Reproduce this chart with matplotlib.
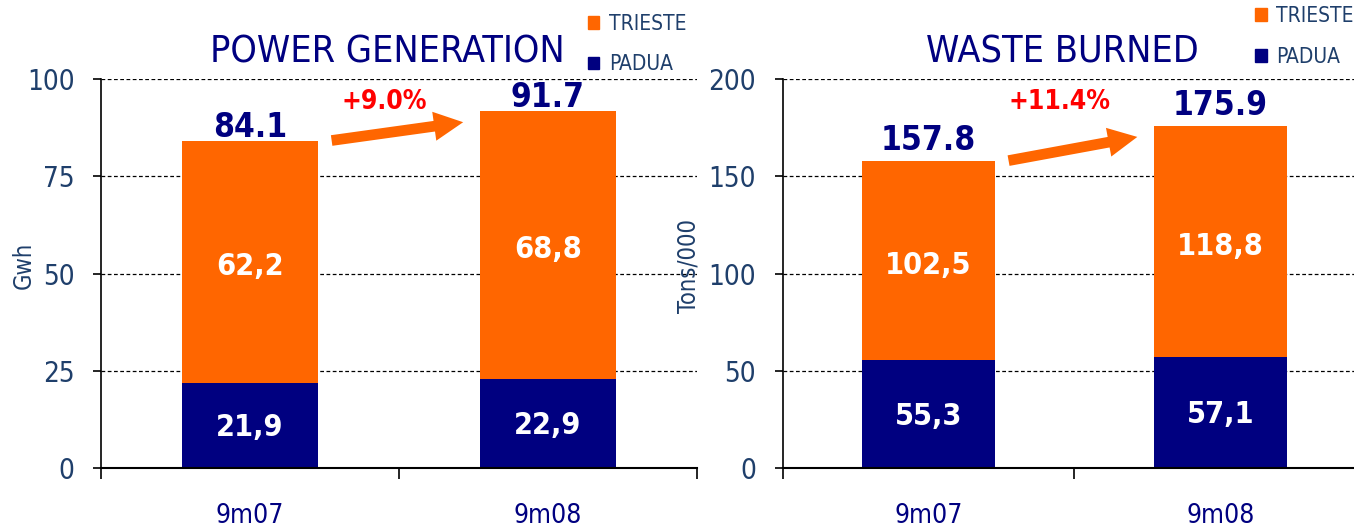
import matplotlib
matplotlib.use('Agg')
import matplotlib.pyplot as plt
from matplotlib.patches import Patch
import numpy as np

# --- DADOS ---
periodos = ['9m07', '9m08']

energia_padua = [21.9, 22.9]
energia_trieste = [62.2, 68.8]
energia_total = ['84.1', '91.7']
energia_var = '+9.0%'

residuos_padua = [55.3, 57.1]
residuos_trieste = [102.5, 118.8]
residuos_total = ['157.8', '175.9']
residuos_var = '+11.4%'

# --- ESTILO ---
LARANJA = '#FF6600'
AZUL = '#000080'
AZUL_TICK = '#1F3F6B'
VERMELHO = '#FF0000'

plt.rcParams['font.family'] = ['DejaVu Sans']
plt.rcParams['font.stretch'] = 'condensed'


def painel(ax, padua, trieste, totais, variacao, titulo, ylabel, ymax, passo, off_total, leg_xy, ylab_x):
    x = np.arange(len(periodos))
    larg = 0.455
    ax.bar(x, padua, larg, color=AZUL, zorder=3)
    ax.bar(x, trieste, larg, bottom=padua, color=LARANJA, zorder=3)

    # rótulos internos
    for i in range(len(x)):
        ax.text(x[i], padua[i] / 2 - ymax * 0.006, f'{padua[i]:.1f}'.replace('.', ','),
                ha='center', va='center', color='white', fontsize=22, fontweight='bold', zorder=4)
        ax.text(x[i], padua[i] + trieste[i] / 2 - ymax * 0.012, f'{trieste[i]:.1f}'.replace('.', ','),
                ha='center', va='center', color='white', fontsize=22, fontweight='bold', zorder=4)
        tot = padua[i] + trieste[i]
        ax.annotate(totais[i], (x[i], tot), xytext=(0, off_total), textcoords='offset points',
                    ha='center', va='bottom', color=AZUL, fontsize=24, fontweight='bold')

    # seta de crescimento
    t0 = padua[0] + trieste[0]
    t1 = padua[1] + trieste[1]
    ax.annotate('', xy=(0.725, t1 - ymax * 0.027), xytext=(0.265, t0),
                arrowprops=dict(arrowstyle='simple,head_width=1.5,head_length=1.5,tail_width=0.55',
                                color=LARANJA, lw=0, mutation_scale=14), zorder=5)
    ax.text(0.45, ymax * 0.94, variacao, ha='center', va='center', color=VERMELHO,
            fontsize=19, fontweight='bold')

    ax.set_xlim(-0.5, 1.5)
    ax.set_ylim(0, ymax)
    ax.set_yticks(np.arange(0, ymax + 1, passo))
    ax.set_xticks([-0.5, 0.5, 1.5])
    ax.set_xticklabels([])
    ax.set_xticks(x, minor=True)
    ax.set_xticklabels(periodos, minor=True)
    ax.tick_params(axis='x', which='major', length=8, width=1.2, direction='out')
    ax.tick_params(axis='x', which='minor', length=0, pad=25, labelsize=19, labelcolor=AZUL)
    ax.tick_params(axis='y', length=6, width=1.2, direction='out', labelsize=20,
                   labelcolor=AZUL_TICK, pad=13)
    ax.grid(axis='y', color='black', linestyle=(0, (3, 2)), linewidth=0.9, zorder=0)
    for s in ['top', 'right']:
        ax.spines[s].set_visible(False)
    ax.spines['left'].set_linewidth(1.2)
    ax.spines['bottom'].set_linewidth(1.5)
    ax.spines['bottom'].set_zorder(5)

    ax.set_title(titulo, color=AZUL, fontsize=27, pad=12, x=0.48)
    ax.set_ylabel(ylabel, color=AZUL_TICK, fontsize=17)
    ax.yaxis.set_label_coords(ylab_x, 0.52)

    alcas = [Patch(color=LARANJA, label='TRIESTE'), Patch(color=AZUL, label='PADUA')]
    ax.legend(handles=alcas, loc='upper left', bbox_to_anchor=leg_xy, frameon=False,
              fontsize=15, handlelength=0.55, handleheight=0.55, handletextpad=0.45,
              labelspacing=1.0, borderpad=0, labelcolor=AZUL_TICK)


fig = plt.figure(figsize=(13.54, 5.27), dpi=100)
ax1 = fig.add_axes([0.0746, 0.112, 0.440, 0.738])
ax2 = fig.add_axes([0.578, 0.112, 0.431, 0.738])

painel(ax1, energia_padua, energia_trieste, energia_total, energia_var,
       'POWER GENERATION', 'Gwh', 100, 25, -2, (0.8, 1.195), -0.11)
painel(ax2, residuos_padua, residuos_trieste, residuos_total, residuos_var,
       'WASTE BURNED', 'Tons/000', 200, 50, 3, (0.792, 1.215), -0.14)

plt.savefig('out.png', dpi=100, facecolor='white')
plt.close(fig)
